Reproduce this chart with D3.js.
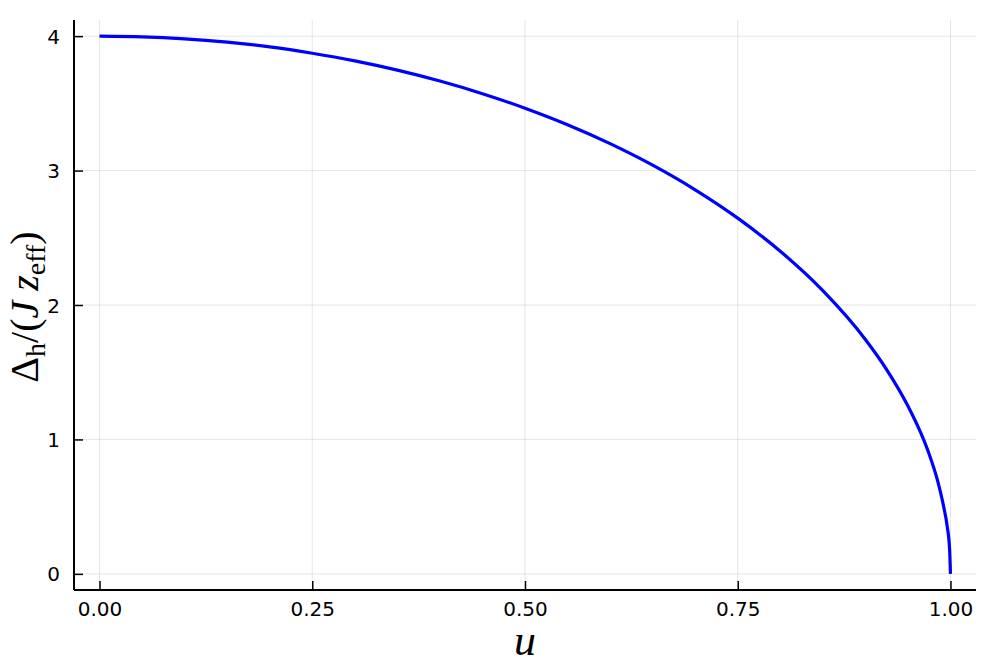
<!DOCTYPE html>
<html lang="en">
<head>
  <meta charset="utf-8"/>
  <title>Delta_h vs u</title>
  <script src="https://d3js.org/d3.v7.min.js"></script>
  <style>
    body { margin: 0; background: #fff; }
  </style>
</head>
<body>
<svg id="chart" width="996" height="664"></svg>
<script>
  // values
  const uVals = [0, 0.05, 0.1, 0.15, 0.2, 0.25, 0.3, 0.35, 0.4, 0.45, 0.5, 0.55, 0.6, 0.65, 0.7,
                 0.75, 0.8, 0.85, 0.9, 0.925, 0.95, 0.965, 0.975, 0.985, 0.992, 0.996, 0.999, 1.0];
  const deltaVals = [4.0, 3.995, 3.98, 3.955, 3.92, 3.873, 3.816, 3.747, 3.666, 3.572, 3.464, 3.341, 3.2, 3.04, 2.857,
                     2.646, 2.4, 2.107, 1.744, 1.52, 1.249, 1.05, 0.89, 0.69, 0.5, 0.36, 0.18, 0.0];
  const xTicks = [0, 0.25, 0.5, 0.75, 1.0];
  const yTicks = [0, 1, 2, 3, 4];

  const data = uVals.map((u, i) => ({ u: u, d: deltaVals[i] }));

  const svg = d3.select("#chart");
  const pL = 74, pR = 976, pT = 20, pB = 590;
  const tickFont = "'DejaVu Sans', sans-serif";
  const guideFont = "'Liberation Serif', 'DejaVu Serif', serif";

  const x = d3.scaleLinear().domain([-0.03, 1.03]).range([pL, pR]);
  const y = d3.scaleLinear().domain([-0.12, 4.12]).range([pB, pT]);

  // grid
  svg.append("g").selectAll("line")
    .data(xTicks).enter().append("line")
    .attr("x1", d => x(d)).attr("x2", d => x(d))
    .attr("y1", pT).attr("y2", pB)
    .attr("stroke", "#000").attr("stroke-opacity", 0.1).attr("stroke-width", 1);
  svg.append("g").selectAll("line")
    .data(yTicks).enter().append("line")
    .attr("x1", pL).attr("x2", pR)
    .attr("y1", d => y(d)).attr("y2", d => y(d))
    .attr("stroke", "#000").attr("stroke-opacity", 0.1).attr("stroke-width", 1);

  // axes (ticks point inward)
  const xAxis = svg.append("g")
    .attr("transform", `translate(0,${pB})`)
    .call(d3.axisTop(x).tickValues(xTicks).tickSize(9).tickFormat(d3.format(".2f")));
  xAxis.select(".domain").attr("d", `M${pL},0H${pR}`).attr("stroke-width", 2);
  xAxis.selectAll(".tick line").attr("stroke-width", 1.5);
  xAxis.selectAll(".tick text")
    .attr("y", 26).attr("dy", 0)
    .style("font-size", "20px").style("font-family", tickFont);

  const yAxis = svg.append("g")
    .attr("transform", `translate(${pL},0)`)
    .call(d3.axisRight(y).tickValues(yTicks).tickSize(9).tickFormat(d3.format("d")));
  yAxis.select(".domain").attr("d", `M0,${pT}V${pB}`).attr("stroke-width", 2);
  yAxis.selectAll(".tick line").attr("stroke-width", 1.5);
  yAxis.selectAll(".tick text")
    .attr("x", -14).attr("dy", "0.35em").attr("text-anchor", "end")
    .style("font-size", "20px").style("font-family", tickFont);

  // curve
  const line = d3.line()
    .x(d => x(d.u))
    .y(d => y(d.d))
    .curve(d3.curveMonotoneX);
  svg.append("path")
    .datum(data)
    .attr("d", line)
    .attr("fill", "none")
    .attr("stroke", "#0000ff")
    .attr("stroke-width", 3.2);

  // axis titles
  svg.append("text")
    .attr("x", x(0.5)).attr("y", 655)
    .attr("text-anchor", "middle")
    .style("font-family", guideFont)
    .style("font-size", "44px").style("font-style", "italic")
    .text("u");

  const yl = svg.append("text")
    .attr("transform", `translate(38,${(pT + pB) / 2 + 2}) rotate(-90)`)
    .attr("text-anchor", "middle")
    .style("font-family", guideFont)
    .style("font-size", "40px");
  yl.append("tspan").text("Δ");
  yl.append("tspan").attr("dy", 7).style("font-size", "28px").text("h");
  yl.append("tspan").attr("dy", -7).text("/(");
  yl.append("tspan").style("font-style", "italic").text("J z");
  yl.append("tspan").attr("dy", 7).style("font-size", "28px").text("eff");
  yl.append("tspan").attr("dy", -7).text(")");
</script>
</body>
</html>
